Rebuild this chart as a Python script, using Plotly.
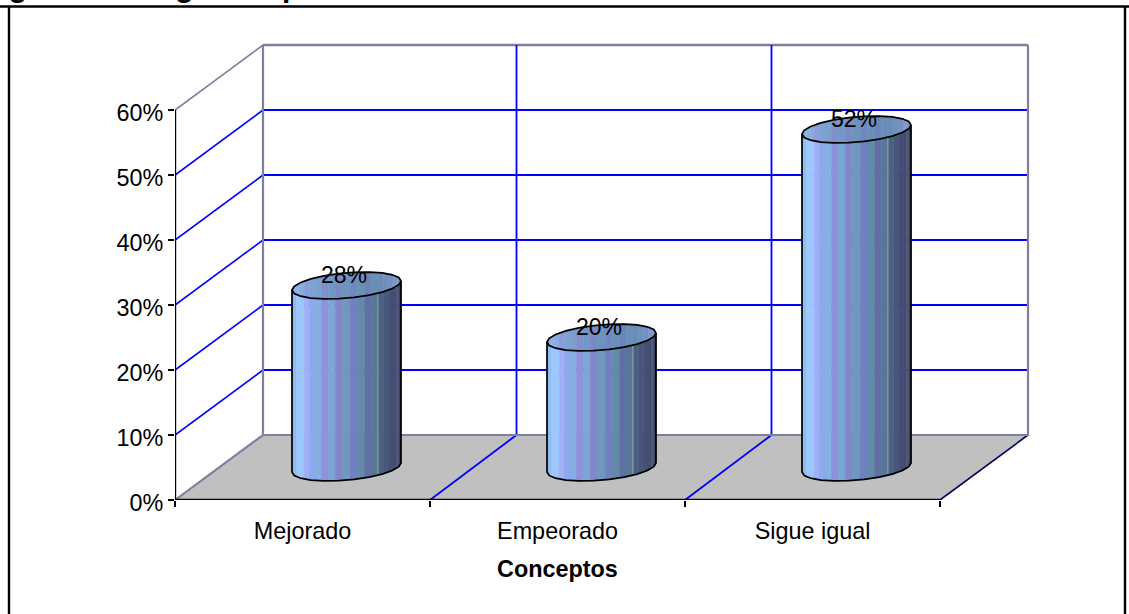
import math
import plotly.graph_objects as go

# ---- data ----
categories = ["Mejorado", "Empeorado", "Sigue igual"]
values = [28, 20, 52]
y_ticks = [0, 10, 20, 30, 40, 50, 60]
x_edges = [0, 1, 2, 3]
title_text = "Figura 13.\u00a0\u00a0\u00a0Ingresos por efectos de la dolarización resultado"
x_title = "Conceptos"

# ---- style ----
FONT = "Liberation Sans"
BLUE = "#0000FF"
EDGE = "#7F7F9F"
FLOOR = "#C0C0C0"
body_colors = ["#6F9CD0", "#8FBCEF", "#8FBCEF", "#9CC8FF", "#9CC8FF", "#A0B0F6", "#8EA8EE", "#84B0E4",
               "#8E92DA", "#7CA6D4", "#8088C8", "#7098BE", "#7080C0", "#608CAA", "#6070A6", "#567896",
               "#4A6280", "#46587A", "#484C78", "#3E5070", "#50587A", "#3C4866", "#303C58"]
cap_colors = ["#80A8D8", "#88B0E0", "#8AB0E0", "#8AB2E2", "#8AACE0", "#8A9CDC", "#7CA2D4", "#7CA0CE",
              "#8090CC", "#7098C4", "#7A8AC6", "#6C94BC", "#7088C0", "#6A90B8", "#6C84B8", "#6890B4",
              "#6C8CB8", "#6E92BA", "#7A8CC4", "#7A9CC4", "#8096CC", "#84A4D0", "#88ACD4"]
HIGHLIGHT_FACET = 16

# ---- plot geometry (pixels) and oblique projection (data units) ----
W, H = 1129, 614
L, R, T, B = 175, 1040, 30, 500
PX_X = 255.0          # pixels per category
PX_Y = 6.5            # pixels per percent
DEPTH_X = 88 / PX_X   # depth offset along x, in category units
GRID_DEPTH_X = 86.5 / PX_X
DEPTH_Y = 65 / PX_Y   # depth offset along y, in percent units
RAD_X = 54.5 / PX_X   # silhouette half width of a cylinder
RAD_Y = 13.5 / PX_Y   # half height of an end cap
TILT = math.radians(19.8)
RIM_SIDES = 22
ymax_grid = y_ticks[-1]
xmax_grid = x_edges[-1]

fig = go.Figure()


def poly(xs, ys, fill=None, line=None, width=1.0):
    fig.add_trace(go.Scatter(
        x=xs, y=ys, mode="lines", hoverinfo="skip", showlegend=False, cliponaxis=False,
        fill="toself" if fill else None, fillcolor=fill,
        line=dict(color=line or fill, width=width)))


# floor
poly([0, xmax_grid, xmax_grid + DEPTH_X, DEPTH_X, 0], [0, 0, DEPTH_Y, DEPTH_Y, 0], fill=FLOOR, width=0.5)

# grid on the left wall and the back wall
for v in y_ticks[1:-1]:
    poly([0, DEPTH_X], [v, v + DEPTH_Y], line=BLUE, width=1.6)
for v in y_ticks[1:]:
    color = BLUE if v != ymax_grid else EDGE
    poly([DEPTH_X, xmax_grid + DEPTH_X], [v + DEPTH_Y, v + DEPTH_Y], line=color, width=2 if v != ymax_grid else 2.4)
for e in x_edges[1:-1]:
    poly([e, e + GRID_DEPTH_X, e + GRID_DEPTH_X], [0, DEPTH_Y, ymax_grid + DEPTH_Y], line=BLUE, width=1.8)
poly([xmax_grid, xmax_grid + DEPTH_X], [0, DEPTH_Y], line="#000060", width=1.6)

# grey wall edges
poly([0, DEPTH_X, xmax_grid + DEPTH_X, xmax_grid + DEPTH_X], [0, DEPTH_Y, DEPTH_Y, ymax_grid + DEPTH_Y], line=EDGE, width=2.2)
poly([DEPTH_X, DEPTH_X], [DEPTH_Y, ymax_grid + DEPTH_Y], line=EDGE, width=2.2)
poly([0, DEPTH_X], [ymax_grid, ymax_grid + DEPTH_Y], line=EDGE, width=1.6)

# axis lines
poly([0, xmax_grid], [0, 0], line="black", width=2.4)
poly([0, 0], [0, ymax_grid], line="black", width=2.4)


# cylinders
def rim(cx, cy, theta):
    return cx + RAD_X * math.cos(theta), cy + RAD_Y * math.sin(TILT + theta)


n = len(body_colors)
for i, val in enumerate(values):
    cx = i + 0.5 + DEPTH_X / 2
    base = DEPTH_Y / 2
    top = base + val
    for k in range(n):
        a0 = -math.pi + math.pi * k / n
        a1 = -math.pi + math.pi * (k + 1) / n
        x0, yt0 = rim(cx, top, a0)
        x1, yt1 = rim(cx, top, a1)
        _, yb0 = rim(cx, base, a0)
        _, yb1 = rim(cx, base, a1)
        poly([x0, x1, x1, x0, x0], [yt0, yt1, yb1, yb0, yt0], fill=body_colors[k], width=0.6)
        xb0, ybk0 = rim(cx, top, -a0)
        xb1, ybk1 = rim(cx, top, -a1)
        poly([x0, x1, xb1, xb0, x0], [yt0, yt1, ybk1, ybk0, yt0], fill=cap_colors[k], width=0.6)
        if k == HIGHLIGHT_FACET:
            poly([x0, x0], [yt0, yb0], line="#9AA8B8", width=1)
    # outlines: whole top rim, and the silhouette
    angs = [2 * math.pi * j / RIM_SIDES for j in range(RIM_SIDES + 1)]
    pts = [rim(cx, top, a) for a in angs]
    poly([p[0] for p in pts], [p[1] for p in pts], line="black", width=1.7)
    half = RIM_SIDES // 2
    low = [-math.pi + math.pi * j / half for j in range(half + 1)]
    xs = [rim(cx, base, a)[0] for a in low]
    ys = [rim(cx, base, a)[1] for a in low]
    xs = [rim(cx, top, -math.pi)[0]] + xs + [rim(cx, top, 0)[0]]
    ys = [rim(cx, top, -math.pi)[1]] + ys + [rim(cx, top, 0)[1]]
    poly(xs, ys, line="black", width=1.7)

# value labels
fig.add_trace(go.Scatter(
    x=[i + 0.5 + DEPTH_X / 2 - 0.01 for i in range(len(values))],
    y=[v + DEPTH_Y / 2 + 1.3 for v in values],
    mode="text", text=[f"{v}%" for v in values], textposition="middle center",
    textfont=dict(family=FONT, size=23, color="black"),
    hoverinfo="skip", showlegend=False, cliponaxis=False))


def paper_x(px):
    return (px - L) / (R - L)


def paper_y(px):
    return (B - px) / (B - T)


line_black = dict(color="black", width=2.4)
shapes = [
    dict(type="line", xref="paper", yref="paper", x0=paper_x(0), x1=paper_x(W), y0=paper_y(6.5), y1=paper_y(6.5), line=line_black),
    dict(type="line", xref="paper", yref="paper", x0=paper_x(9), x1=paper_x(9), y0=paper_y(6.5), y1=paper_y(H), line=line_black),
    dict(type="line", xref="paper", yref="paper", x0=paper_x(1125), x1=paper_x(1125), y0=paper_y(6.5), y1=paper_y(H), line=line_black),
]

annotations = [
    dict(text=f"<b>{title_text}</b>", xref="paper", yref="paper", x=paper_x(-20), y=paper_y(-14),
         xanchor="left", yanchor="middle", showarrow=False, font=dict(family=FONT, size=30, color="black")),
    dict(text=f"<b>{x_title}</b>", xref="x", yref="paper", x=1.5, y=paper_y(569),
         xanchor="center", yanchor="middle", showarrow=False, font=dict(family=FONT, size=23.4, color="black")),
]

fig.update_layout(
    width=W, height=H, margin=dict(l=L, r=W - R, t=T, b=H - B, pad=0),
    paper_bgcolor="white", plot_bgcolor="rgba(0,0,0,0)", showlegend=False,
    shapes=shapes, annotations=annotations,
    xaxis=dict(range=[0, (R - L) / PX_X], showgrid=False, zeroline=False, showline=False,
               tickmode="array", tickvals=[i + 0.5 for i in range(len(categories))], ticktext=categories,
               ticks="", ticklabelstandoff=15,
               tickfont=dict(family=FONT, size=23.4, color="black"),
               minor=dict(tickmode="array", tickvals=x_edges, ticks="outside", ticklen=6, tickwidth=2, tickcolor="black", showgrid=False)),
    yaxis=dict(range=[0, (B - T) / PX_Y], showgrid=False, zeroline=False, showline=False,
               tickmode="array", tickvals=y_ticks, ticktext=[f"{v}%" for v in y_ticks],
               ticks="outside", ticklen=6, tickwidth=2, tickcolor="black", ticklabelshift=3,
               tickfont=dict(family=FONT, size=23.4, color="black")),
)

fig.write_html("out.html", config={"displayModeBar": False},
               post_script="document.body.style.margin='0';document.documentElement.style.overflow='hidden';")
